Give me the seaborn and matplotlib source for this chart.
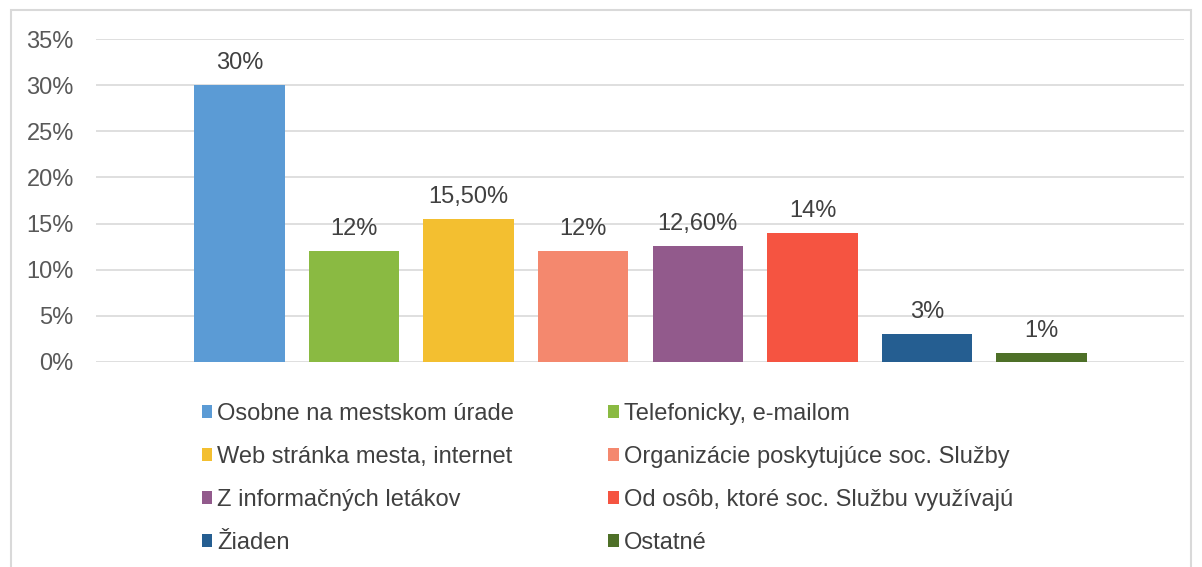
import matplotlib
matplotlib.use("Agg")
import matplotlib.pyplot as plt
import seaborn as sns
import pandas as pd
from matplotlib.patches import Rectangle
from matplotlib.ticker import PercentFormatter

# data
categories = [
    "Osobne na mestskom úrade",
    "Telefonicky, e-mailom",
    "Web stránka mesta, internet",
    "Organizácie poskytujúce soc. Služby",
    "Z informačných letákov",
    "Od osôb, ktoré soc. Službu využívajú",
    "Žiaden",
    "Ostatné",
]
values = [30, 12, 15.5, 12, 12.6, 14, 3, 1]
value_labels = ["30%", "12%", "15,50%", "12%", "12,60%", "14%", "3%", "1%"]
colors = ["#5B9BD5", "#8ABA42", "#F3BF30", "#F4886E",
          "#925A8C", "#F55441", "#255E91", "#4E7028"]
y_ticks = [0, 5, 10, 15, 20, 25, 30, 35]

df = pd.DataFrame({"Zdroj": categories, "Podiel": values})

sns.set_style("white")
plt.rcParams["font.family"] = ["Liberation Sans", "DejaVu Sans"]

fig = plt.figure(figsize=(12.02, 5.67), dpi=100)
ax = fig.add_axes([0.0799, 0.3616, 0.905, 0.5696])

sns.barplot(
    data=df, x="Zdroj", y="Podiel", hue="Zdroj",
    palette=colors, width=0.79, saturation=1, legend=True, ax=ax,
    linewidth=0,
)

# value labels above bars
for cont, lab in zip(ax.containers, value_labels):
    ax.bar_label(cont, labels=[lab], padding=8, fontsize=17, color="#404040")

ax.set_xlim(-1.25, 8.24)
ax.set_ylim(0, 35)
ax.set_yticks(y_ticks)
ax.yaxis.set_major_formatter(PercentFormatter(decimals=0))
ax.tick_params(axis="y", labelsize=17, labelcolor="#595959", length=0, pad=16)
ax.set_xticks([])
ax.set_xlabel("")
ax.set_ylabel("")
ax.grid(axis="y", color="#D9D9D9", linewidth=1.2)
ax.set_axisbelow(True)
sns.despine(ax=ax, left=True, bottom=True)

# legend in row order, two columns
handles, labels = ax.get_legend_handles_labels()
order = [0, 2, 4, 6, 1, 3, 5, 7]
ax.get_legend().remove()
fig.legend(
    [handles[i] for i in order], [labels[i] for i in order],
    ncol=2, loc="upper left", bbox_to_anchor=(0.150, 0.327),
    frameon=False, fontsize=17, handlelength=0.45, handleheight=0.45,
    handletextpad=0.2, columnspacing=4.0, labelspacing=0.89,
    labelcolor="#404040",
)

# light chart border
fig.patches.append(Rectangle((0.009, -0.01), 0.982, 0.993, transform=fig.transFigure,
                             fill=False, edgecolor="#D9D9D9", linewidth=1.5))

fig.savefig("out.png", dpi=100)
